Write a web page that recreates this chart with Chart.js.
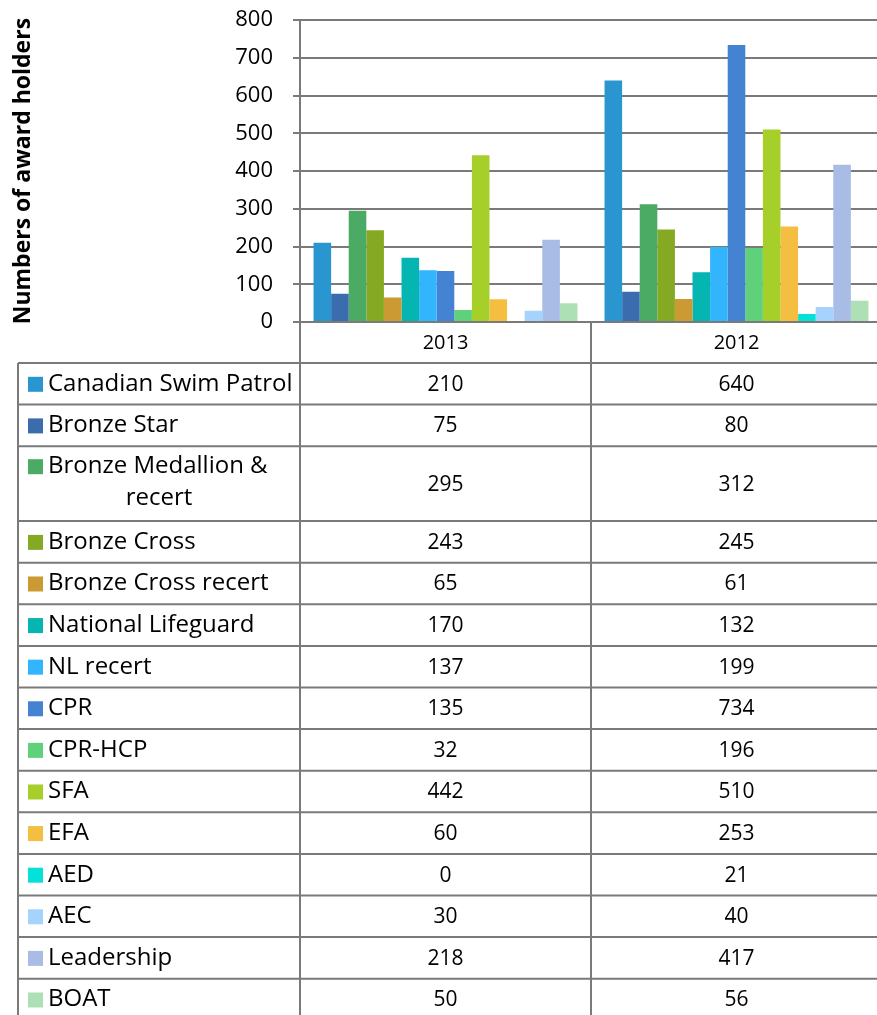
<!DOCTYPE html>
<html>
<head>
<meta charset="utf-8">
<script src="https://cdn.jsdelivr.net/npm/chart.js@4/dist/chart.umd.min.js"></script>
<style>
  html, body { margin: 0; padding: 0; background: #fff; overflow: hidden; }
  #wrap { width: 882px; height: 1028px; margin-top: -13px; }
</style>
</head>
<body>
<div id="wrap"><canvas id="chart" width="882" height="1028"></canvas></div>
<script>
const years = ["2013", "2012"];
const awards = [
  "Canadian Swim Patrol", "Bronze Star", "Bronze Medallion & recert", "Bronze Cross",
  "Bronze Cross recert", "National Lifeguard", "NL recert", "CPR", "CPR-HCP",
  "SFA", "EFA", "AED", "AEC", "Leadership", "BOAT"
];
const values2013 = [210, 75, 295, 243, 65, 170, 137, 135, 32, 442, 60, 0, 30, 218, 50];
const values2012 = [640, 80, 312, 245, 61, 132, 199, 734, 196, 510, 253, 21, 40, 417, 56];
const colors = [
  "#2a96d0", "#3a6cae", "#4baa63", "#86a923", "#cb9a33", "#05b5b2", "#33b5fd",
  "#4482d2", "#5ed17a", "#a7cf2a", "#f4be40", "#05e0d8", "#a6d3fd", "#a8bce5", "#aee0b6"
];

const FONT = "'Open Sans', sans-serif";
const lineColor = "#7a7a7a";

// canvas is shifted up 13px by css, table rows below the plot
const shift = 13;
const tableTop = 322 + shift;
const headH = 41;
const rowH = 41.6;

const dataTable = {
  id: "dataTable",
  afterDraw(chart) {
    const ctx = chart.ctx;
    const x = chart.scales.x;
    const left = 18;
    const colW = (x.right - x.left) / years.length;
    const bottom = chart.height;
    ctx.save();

    // header
    ctx.fillStyle = "#000";
    ctx.font = "20px " + FONT;
    ctx.textAlign = "center";
    ctx.textBaseline = "middle";
    years.forEach((y, i) => {
      ctx.fillText(y, x.getPixelForValue(i), tableTop + headH / 2 + 1);
    });

    let top = tableTop + headH;
    const bounds = [top];
    awards.forEach((name, k) => {
      const twoLines = name === "Bronze Medallion & recert";
      const h = twoLines ? rowH * 1.8 : rowH;
      const mid = top + h / 2;
      const firstY = twoLines ? top + 20 : mid;

      ctx.fillStyle = colors[k];
      ctx.fillRect(28, firstY - 7, 15, 15);

      ctx.fillStyle = "#000";
      ctx.font = "24px " + FONT;
      ctx.textAlign = "left";
      if (twoLines) {
        ctx.fillText("Bronze Medallion &", 48, firstY);
        ctx.textAlign = "center";
        ctx.fillText("recert", 159, top + 52);
      } else {
        ctx.fillText(name, 48, mid);
      }

      ctx.textAlign = "center";
      ctx.font = "21px " + FONT;
      ctx.fillText(String(values2013[k]), x.getPixelForValue(0), mid + 1);
      ctx.fillText(String(values2012[k]), x.getPixelForValue(1), mid + 1);

      top += h;
      bounds.push(top);
    });

    // grid lines of the table
    ctx.strokeStyle = lineColor;
    ctx.lineWidth = 2;
    ctx.beginPath();
    bounds.forEach(b => {
      ctx.moveTo(left, b);
      ctx.lineTo(x.right, b);
    });
    ctx.moveTo(left, tableTop + headH);
    ctx.lineTo(left, bottom);
    for (let i = 0; i <= years.length; i++) {
      const cx = x.left + i * colW;
      ctx.moveTo(cx, tableTop);
      ctx.lineTo(cx, bottom);
    }
    ctx.stroke();
    ctx.restore();
  }
};

const datasets = awards.map((name, k) => ({
  label: name,
  data: [values2013[k], values2012[k]],
  backgroundColor: colors[k],
  borderWidth: 0
}));

new Chart("chart", {
  type: "bar",
  data: {
    labels: years,
    datasets: datasets
  },
  options: {
    responsive: false,
    animation: false,
    maintainAspectRatio: false,
    layout: {
      padding: { top: 0, bottom: 1028 - tableTop, left: 0, right: 0 }
    },
    datasets: {
      bar: { categoryPercentage: 0.907, barPercentage: 1 }
    },
    plugins: {
      legend: { display: false },
      tooltip: { enabled: false }
    },
    scales: {
      x: { display: false },
      y: {
        min: 0,
        max: 800,
        ticks: {
          stepSize: 100,
          color: "#000",
          padding: 20,
          font: { family: FONT, size: 22 }
        },
        grid: { color: lineColor, lineWidth: 2, tickLength: 7 },
        border: { color: lineColor, width: 2 },
        title: {
          display: true,
          text: "Numbers of award holders",
          color: "#000",
          padding: { top: 10, bottom: 0 },
          font: { family: FONT, size: 23, weight: "bold" }
        },
        afterFit(scale) { scale.width = 300; }
      }
    }
  },
  plugins: [dataTable]
});
</script>
</body>
</html>
